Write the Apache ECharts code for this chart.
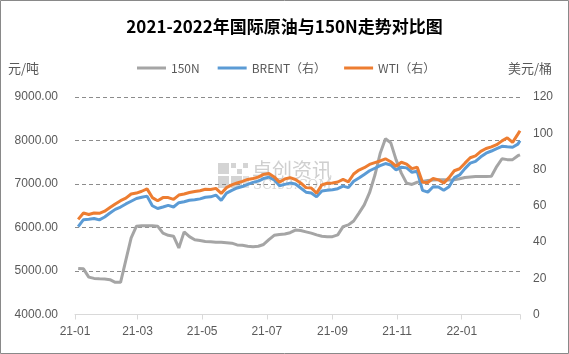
<!DOCTYPE html>
<html>
<head>
<meta charset="utf-8">
<script src="https://cdn.jsdelivr.net/npm/echarts@6/dist/echarts.min.js"></script>
<style>
  html, body { margin: 0; padding: 0; background: #fff; }
  #chart { width: 569px; height: 354px; }
</style>
</head>
<body>
<div id="chart"></div>
<script>
const dates = [
  "2021-01-04", "2021-01-09", "2021-01-14", "2021-01-19", "2021-01-24", "2021-01-29",
  "2021-02-03", "2021-02-08", "2021-02-13", "2021-02-18", "2021-02-23", "2021-02-28",
  "2021-03-05", "2021-03-10", "2021-03-15", "2021-03-20", "2021-03-25", "2021-03-30",
  "2021-04-04", "2021-04-09", "2021-04-14", "2021-04-19", "2021-04-24", "2021-04-29",
  "2021-05-04", "2021-05-09", "2021-05-14", "2021-05-19", "2021-05-24", "2021-05-29",
  "2021-06-03", "2021-06-08", "2021-06-13", "2021-06-18", "2021-06-23", "2021-06-28",
  "2021-07-03", "2021-07-08", "2021-07-13", "2021-07-18", "2021-07-23", "2021-07-28",
  "2021-08-02", "2021-08-07", "2021-08-12", "2021-08-17", "2021-08-22", "2021-08-27",
  "2021-09-01", "2021-09-06", "2021-09-11", "2021-09-16", "2021-09-21", "2021-09-26",
  "2021-10-01", "2021-10-06", "2021-10-11", "2021-10-16", "2021-10-21", "2021-10-26",
  "2021-10-31", "2021-11-05", "2021-11-10", "2021-11-15", "2021-11-20", "2021-11-25",
  "2021-11-30", "2021-12-05", "2021-12-10", "2021-12-15", "2021-12-20", "2021-12-25",
  "2021-12-30", "2022-01-04", "2022-01-09", "2022-01-14", "2022-01-19", "2022-01-24",
  "2022-01-29", "2022-02-03", "2022-02-08", "2022-02-13", "2022-02-18", "2022-02-23",
  "2022-02-25"
];

// 元/吨, left axis
const base150N = [
  5060, 5050, 4860, 4830, 4820, 4815,
  4800, 4740, 4740, 5250, 5760, 6030,
  6040, 6040, 6040, 6030, 5870, 5820,
  5800, 5530, 5900, 5790, 5720, 5700,
  5680, 5670, 5660, 5660, 5650, 5640,
  5600, 5590, 5570, 5560, 5570, 5610,
  5720, 5820, 5840, 5850, 5880, 5940,
  5930, 5900, 5870, 5830, 5800, 5790,
  5790, 5830, 6020, 6060, 6150, 6330,
  6520, 6800, 7200, 7700, 8040, 7950,
  7560, 7250, 7020, 6990, 7040, 7060,
  7080, 7090, 7100, 7100, 7090, 7100,
  7120, 7150, 7160, 7170, 7170, 7170,
  7180, 7400, 7580, 7560, 7560, 7650,
  7670
];

// 美元/桶, right axis
const brent = [
  48.5, 52.3, 52.6, 53.0, 52.2, 53.8,
  56.0, 58.0, 59.3, 61.0, 62.5, 64.0,
  64.7, 65.3, 60.0, 58.5, 59.3, 60.2,
  59.3, 61.7, 62.2, 63.0, 63.3, 63.8,
  64.7, 64.9, 65.9, 63.0, 67.0, 68.5,
  69.8, 70.6, 71.8, 72.9, 73.6, 75.0,
  75.8, 74.3, 71.0, 71.8, 72.5, 72.0,
  69.8, 67.5, 67.0, 65.0, 68.2, 68.5,
  68.8, 69.4, 70.8, 70.0, 73.5, 75.3,
  77.3, 79.3, 80.7, 82.1, 83.3, 82.5,
  79.8, 81.3, 80.9, 78.5, 79.0, 68.5,
  67.5, 70.5, 70.3, 68.5, 70.5, 75.5,
  77.0, 80.5, 83.5, 84.5, 87.0, 89.0,
  90.2, 91.5, 92.8, 92.5, 92.3, 94.0,
  95.9
];

const wti = [
  52.5, 56.0, 55.2, 56.0, 55.8, 57.0,
  59.0, 61.0, 62.8, 64.2, 66.5, 67.0,
  68.0, 69.3, 64.5, 62.8, 64.5, 64.5,
  63.5, 65.9, 66.5, 67.3, 67.9, 68.3,
  69.1, 69.0, 69.6, 66.8, 70.0, 71.5,
  72.6, 73.4, 74.5, 75.0, 75.8, 77.3,
  77.8, 75.9, 73.0, 74.8, 75.5, 74.5,
  72.6, 70.0, 69.8, 67.0, 71.5, 72.4,
  72.6, 73.1, 74.5, 73.2, 77.5, 79.7,
  81.0, 82.8, 83.8, 84.7, 85.9, 84.3,
  81.8, 84.0, 83.0, 80.5, 81.2, 73.0,
  72.8, 75.1, 74.3, 72.5, 75.5, 79.3,
  80.4, 83.5, 86.5, 87.5, 90.0, 91.6,
  92.5, 93.7, 95.8, 97.5, 95.0, 99.5,
  101.4
];

const labelDates = ["2021-01-01", "2021-03-01", "2021-05-01", "2021-07-01", "2021-09-01", "2021-11-01", "2022-01-01"];
const tickDates = labelDates.concat(["2022-02-25"]);
const axisStart = "2021-01-01";
const axisEnd = "2022-02-25";

const ts = (s) => new Date(s + "T00:00:00").getTime();
const pair = (vals) => vals.map((v, i) => [ts(dates[i]), v]);
const textColor = "#595959";
const numFont = "Liberation Sans, Noto Sans CJK SC, sans-serif";
const cjkFont = "Noto Sans CJK SC, sans-serif";

const chart = echarts.init(document.getElementById("chart"), null, { renderer: "canvas" });

chart.setOption({
  animation: false,
  backgroundColor: "#fff",
  title: {
    text: "2021-2022年国际原油与150N走势对比图",
    left: "center",
    top: 13,
    textStyle: { fontFamily: cjkFont, fontSize: 17, fontWeight: "bold", color: "#000" }
  },
  legend: {
    left: 132,
    top: 57,
    icon: "rect",
    itemWidth: 29,
    itemHeight: 3,
    itemGap: 18,
    textStyle: { fontFamily: cjkFont, fontSize: 12, color: textColor },
    data: ["150N", "BRENT（右）", "WTI（右）"]
  },
  grid: { left: 75, right: 49, top: 97, bottom: 39.5 },
  xAxis: {
    type: "value",
    min: ts(axisStart),
    max: ts(axisEnd),
    axisLine: { lineStyle: { color: "#d9d9d9", width: 1 } },
    axisTick: { show: true, length: 5, lineStyle: { color: "#d9d9d9" }, customValues: tickDates.map(ts) },
    axisLabel: {
      customValues: labelDates.map(ts),
      margin: 11,
      color: textColor,
      fontFamily: numFont,
      fontSize: 12,
      formatter: (v) => {
        const d = new Date(v);
        return String(d.getFullYear()).slice(2) + "-" + String(d.getMonth() + 1).padStart(2, "0");
      }
    },
    splitLine: { show: false }
  },
  yAxis: [
    {
      type: "value",
      min: 4000,
      max: 9000,
      interval: 1000,
      axisLine: { show: false },
      axisTick: { show: false },
      axisLabel: { margin: 17, color: textColor, fontFamily: numFont, fontSize: 12, formatter: (v) => v.toFixed(2) },
      splitLine: {
        lineStyle: {
          color: ["rgba(0,0,0,0)", "#8c8c8c", "#8c8c8c", "#8c8c8c", "#8c8c8c", "#8c8c8c"],
          type: [4, 3],
          width: 1
        }
      }
    },
    {
      type: "value",
      position: "right",
      min: 0,
      max: 120,
      interval: 20,
      axisLine: { show: false },
      axisTick: { show: false },
      axisLabel: { margin: 13, color: textColor, fontFamily: numFont, fontSize: 12 },
      splitLine: { show: false }
    }
  ],
  graphic: [
    { type: "rect", shape: { x: 0.5, y: 0.5, width: 568, height: 353 }, style: { fill: "none", stroke: "#898989", lineWidth: 1 }, silent: true },
    { type: "text", left: 8, top: 62, style: { text: "元/吨", font: "13px Noto Sans CJK SC", fill: textColor } },
    { type: "text", right: 17, top: 62, style: { text: "美元/桶", font: "13px Noto Sans CJK SC", fill: textColor } },
    // watermark
    { type: "rect", shape: { x: 218, y: 163, width: 11, height: 11 }, style: { fill: "#d4d4d4" }, z: -1 },
    { type: "rect", shape: { x: 218, y: 176, width: 11, height: 12 }, style: { fill: "#d4d4d4" }, z: -1 },
    { type: "rect", shape: { x: 231, y: 176, width: 11, height: 12 }, style: { fill: "#d4d4d4" }, z: -1 },
    { type: "rect", shape: { x: 231, y: 163, width: 5, height: 5 }, style: { fill: "#d4d4d4" }, z: -1 },
    { type: "rect", shape: { x: 237, y: 169, width: 5, height: 5 }, style: { fill: "#d4d4d4" }, z: -1 },
    { type: "rect", shape: { x: 243, y: 163, width: 5, height: 5 }, style: { fill: "#d4d4d4" }, z: -1 },
    { type: "rect", shape: { x: 243, y: 176, width: 6, height: 12 }, style: { fill: "#e0e0e0" }, z: -1 },
    { type: "text", left: 252, top: 160, style: { text: "卓创资讯", font: "20px Noto Sans CJK SC", fill: "#cfcfcf" }, z: -1 },
    { type: "text", left: 253, top: 179, style: { text: "SCI99.COM", font: "13px DejaVu Serif", fill: "#d6d6d6" }, z: -1 }
  ],
  series: [
    {
      name: "150N",
      type: "line",
      yAxisIndex: 0,
      data: pair(base150N),
      showSymbol: false,
      symbol: "none",
      lineStyle: { color: "#a5a5a5", width: 3 },
      itemStyle: { color: "#a5a5a5" },
      z: 2
    },
    {
      name: "BRENT（右）",
      type: "line",
      yAxisIndex: 1,
      data: pair(brent),
      showSymbol: false,
      symbol: "none",
      lineStyle: { color: "#5b9bd5", width: 3 },
      itemStyle: { color: "#5b9bd5" },
      z: 3
    },
    {
      name: "WTI（右）",
      type: "line",
      yAxisIndex: 1,
      data: pair(wti),
      showSymbol: false,
      symbol: "none",
      lineStyle: { color: "#ed7d31", width: 3 },
      itemStyle: { color: "#ed7d31" },
      z: 4
    }
  ]
});
</script>
</body>
</html>
